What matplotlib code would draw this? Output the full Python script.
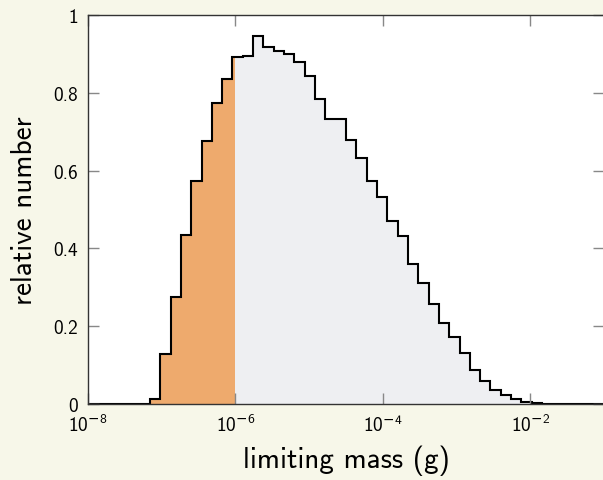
import numpy as np
import matplotlib
matplotlib.use('Agg')
import matplotlib.pyplot as plt

# histogram: 50 log bins between 1e-8 and 1e-1 g
log_lo, log_hi, n_bins = -8, -1, 50
split_mass = 1e-6

rel_number = [0.0, 0.0, 0.0, 0.0, 0.0, 0.0,
              0.014, 0.129, 0.276, 0.434, 0.572, 0.676, 0.775, 0.835,
              0.891, 0.894, 0.946, 0.918, 0.908, 0.899, 0.879, 0.844,
              0.784, 0.733, 0.733, 0.678, 0.632, 0.574, 0.532, 0.470,
              0.432, 0.361, 0.311, 0.256, 0.207, 0.171, 0.130, 0.088,
              0.060, 0.036, 0.022, 0.012, 0.004, 0.002,
              0.001, 0.001, 0.0005, 0.0005, 0.0, 0.0]

xtick_exp = [-8, -6, -4, -2]

edges = np.logspace(log_lo, log_hi, n_bins + 1)
vals = np.array(rel_number)

plt.rcParams['font.family'] = 'cmss10'
plt.rcParams['mathtext.fontset'] = 'custom'
plt.rcParams['mathtext.rm'] = 'cmss10'
plt.rcParams['mathtext.sf'] = 'DejaVu Sans'
plt.rcParams['axes.unicode_minus'] = False

fig = plt.figure(figsize=(6.03, 4.81), dpi=100, facecolor='#f7f7e9')
ax = fig.add_axes([88/603, 1-405/481, 516/603, 389/481])

# split the bin containing 1e-6 into orange / grey parts
k = np.searchsorted(edges, split_mass) - 1
e_left = np.append(edges[:k+1], split_mass)
e_right = np.insert(edges[k+1:], 0, split_mass)
ax.stairs(vals[:k+1], e_left, fill=True, color='#eeaa6d', lw=0)
ax.stairs(vals[k:], e_right, fill=True, color='#eeeff2', lw=0)
ax.stairs(vals, edges, color='black', lw=1.5)

ax.set_xscale('log')
ax.set_xlim(1e-8, 1e-1)
ax.set_ylim(0, 1)
ax.set_xticks([10.0**e for e in xtick_exp])
ax.set_xticklabels(['$\\mathrm{10}^{\\mathsf{\u2212}\\mathrm{%d}}$' % abs(e) for e in xtick_exp])
ax.xaxis.set_minor_locator(matplotlib.ticker.NullLocator())
ax.set_yticks([0, 0.2, 0.4, 0.6, 0.8, 1])
ax.set_yticklabels(['0', '0.2', '0.4', '0.6', '0.8', '1'])
ax.tick_params(direction='in', length=8, width=1, color='#888888',
               top=True, right=True, labelsize=14, pad=7)
for s in ax.spines.values():
    s.set_color('#333333')
    s.set_linewidth(1.0)

ax.set_xlabel('limiting mass (g)', fontsize=21, labelpad=7)
ax.set_ylabel('relative number', fontsize=21, labelpad=11)

fig.savefig('out.png', dpi=100, facecolor=fig.get_facecolor())
